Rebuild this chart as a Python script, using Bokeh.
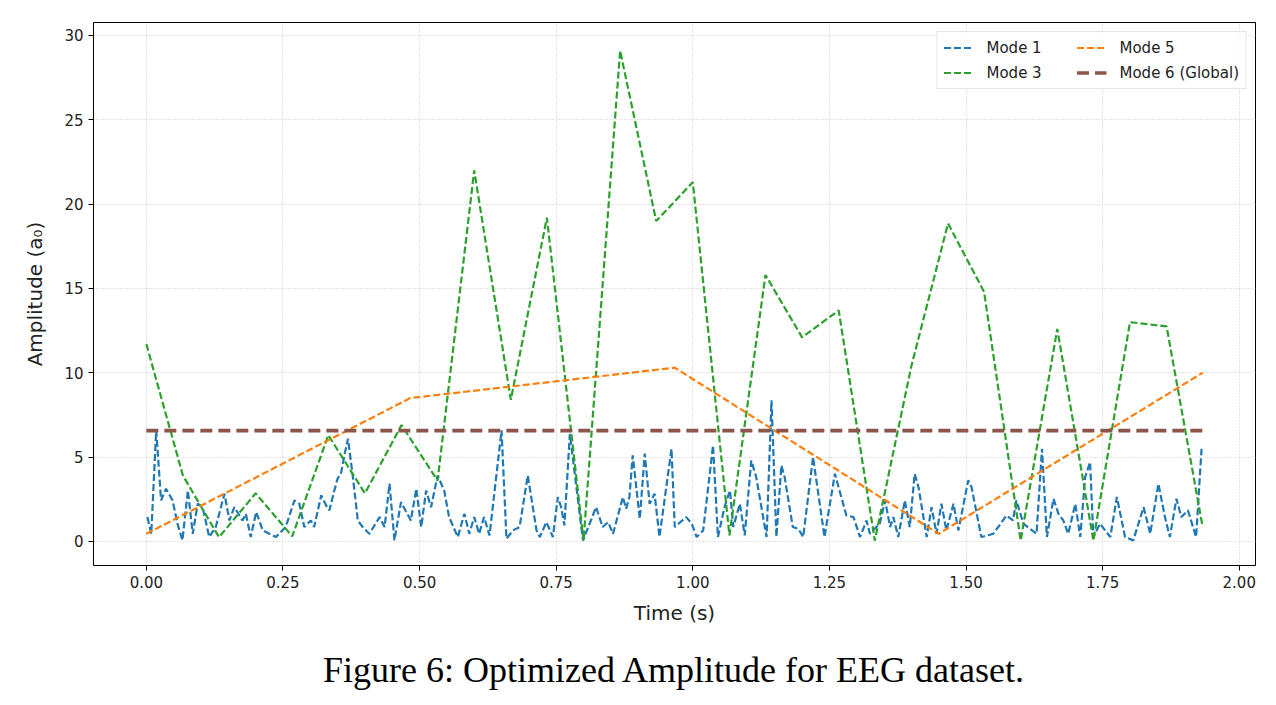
from bokeh.plotting import figure
from bokeh.models import Range1d, FixedTicker, LinearAxis, Legend, LegendItem
from bokeh.embed import file_html
from bokeh.resources import INLINE

# Mode 1 (dense, read vertex by vertex)
t1 = [0.002, 0.009, 0.018, 0.027, 0.036, 0.048, 0.057, 0.066, 0.076, 0.085, 0.094, 0.103, 0.115, 0.127,
      0.143, 0.152, 0.161, 0.176, 0.182, 0.191, 0.201, 0.213, 0.225, 0.237, 0.255, 0.271, 0.280, 0.289,
      0.301, 0.307, 0.320, 0.329, 0.335, 0.344, 0.350, 0.356, 0.363, 0.369, 0.378, 0.387, 0.396, 0.408,
      0.427, 0.436, 0.445, 0.454, 0.466, 0.484, 0.494, 0.503, 0.512, 0.521, 0.533, 0.545, 0.554, 0.570,
      0.582, 0.591, 0.600, 0.609, 0.618, 0.628, 0.650, 0.659, 0.671, 0.683, 0.698, 0.714, 0.720, 0.732,
      0.744, 0.753, 0.759, 0.765, 0.775, 0.799, 0.823, 0.835, 0.845, 0.854, 0.872, 0.878, 0.884, 0.890,
      0.903, 0.912, 0.921, 0.930, 0.939, 0.961, 0.967, 0.988, 0.998, 1.007, 1.019, 1.037, 1.046, 1.058,
      1.068, 1.074, 1.086, 1.095, 1.107, 1.116, 1.135, 1.144, 1.153, 1.162, 1.168, 1.183, 1.193, 1.202,
      1.220, 1.241, 1.260, 1.281, 1.294, 1.306, 1.318, 1.324, 1.342, 1.352, 1.361, 1.367, 1.376, 1.388,
      1.397, 1.406, 1.413, 1.428, 1.437, 1.446, 1.455, 1.464, 1.477, 1.486, 1.504, 1.510, 1.528, 1.550,
      1.574, 1.586, 1.592, 1.605, 1.629, 1.639, 1.648, 1.660, 1.669, 1.678, 1.687, 1.700, 1.709, 1.718,
      1.727, 1.733, 1.745, 1.764, 1.776, 1.791, 1.806, 1.825, 1.837, 1.852, 1.864, 1.873, 1.885, 1.894,
      1.906, 1.921, 1.931]
a1 = [1.44, 0.45, 6.58, 2.43, 3.12, 2.43, 1.05, 0.06, 3.02, 0.45, 2.23, 2.03, 0.26, 0.85,
      2.83, 1.24, 2.03, 1.24, 1.64, 0.26, 1.74, 0.65, 0.45, 0.26, 0.85, 2.43, 2.23, 0.85,
      1.24, 0.85, 2.73, 2.13, 1.84, 3.02, 3.72, 4.01, 5.20, 6.09, 3.81, 1.24, 0.85, 0.45,
      1.44, 0.85, 3.42, 0.06, 2.33, 1.24, 3.12, 0.85, 3.02, 2.03, 3.91, 3.02, 1.44, 0.26,
      1.64, 0.45, 1.44, 0.45, 1.44, 0.36, 6.58, 0.16, 0.65, 0.85, 3.91, 0.65, 0.26, 1.14,
      0.26, 2.63, 2.03, 0.95, 6.38, 0.06, 2.03, 0.85, 1.14, 0.45, 2.63, 1.94, 2.63, 5.10,
      1.34, 5.20, 2.23, 2.83, 0.26, 5.49, 0.85, 1.44, 1.05, 0.26, 0.65, 5.69, 0.26, 2.03,
      3.02, 0.85, 2.23, 0.36, 4.80, 3.81, 0.26, 8.36, 0.26, 4.50, 3.81, 0.85, 0.75, 0.26,
      5.00, 0.26, 4.01, 1.54, 1.44, 0.26, 1.24, 0.45, 1.05, 2.43, 0.85, 1.44, 0.26, 2.43,
      0.85, 4.01, 3.22, 0.26, 2.03, 0.45, 2.23, 0.65, 2.23, 0.65, 3.62, 3.22, 0.26, 0.45,
      1.54, 1.24, 2.43, 1.05, 0.45, 5.49, 0.26, 2.53, 1.64, 1.24, 0.45, 2.23, 0.26, 3.81,
      4.70, 0.26, 1.05, 0.26, 2.63, 0.26, 0.06, 2.03, 0.45, 3.42, 1.44, 0.26, 2.53, 1.44,
      1.84, 0.26, 5.49]

# Mode 3
t3 = [0.000, 0.067, 0.133, 0.200, 0.267, 0.333, 0.400, 0.467, 0.533, 0.600, 0.667, 0.733, 0.800, 0.867, 0.933,
      1.000, 1.067, 1.133, 1.200, 1.267, 1.333, 1.400, 1.467, 1.533, 1.600, 1.667, 1.733, 1.800, 1.867, 1.933]
a3 = [11.7, 3.9, 0.25, 2.85, 0.3, 6.3, 2.85, 6.9, 3.6, 22.0, 8.4, 19.2, 0.05, 29.1, 19.0,
      21.3, 0.35, 15.8, 12.1, 13.7, 0.05, 10.4, 18.85, 14.8, 0.05, 12.6, 0.05, 13.0, 12.75, 0.85]

# Mode 5
t5 = [0.000, 0.483, 0.967, 1.450, 1.933]
a5 = [0.45, 8.5, 10.3, 0.45, 10.0]

# Mode 6 (Global)
t6 = [0.000, 1.933]
a6 = [6.57, 6.57]

x_ticks = [0.0, 0.25, 0.5, 0.75, 1.0, 1.25, 1.5, 1.75, 2.0]
y_ticks = [0, 5, 10, 15, 20, 25, 30]
caption_text = "Figure 6: Optimized Amplitude for EEG dataset."

p = figure(width=1276, height=705, output_backend="svg", toolbar_location=None,
           x_range=Range1d(-0.0967, 2.0297), y_range=Range1d(-1.43, 30.77),
           min_border_left=93, min_border_right=21, min_border_top=22, min_border_bottom=140)

p.background_fill_color = "white"
p.border_fill_color = "white"
p.outline_line_color = "black"
p.outline_line_width = 1

r1 = p.line(t1, a1, line_color="#1f77b4", line_width=2.2, line_dash="7 3")
r3 = p.line(t3, a3, line_color="#2ca02c", line_width=2.2, line_dash="7 3")
r5 = p.line(t5, a5, line_color="#ff7f0e", line_width=2.2, line_dash="7 3")
r6 = p.line(t6, a6, line_color="#8c564b", line_width=3.6, line_dash="12 6")

for ax in (p.xaxis, p.yaxis):
    ax.axis_line_color = None
    ax.major_tick_line_color = "black"
    ax.major_tick_out = 5
    ax.major_tick_in = 0
    ax.minor_tick_line_color = None
    ax.major_label_text_font = "DejaVu Sans"
    ax.major_label_text_font_size = "15px"
    ax.major_label_text_color = "#222222"
    ax.axis_label_text_font = "DejaVu Sans"
    ax.axis_label_text_font_size = "20px"
    ax.axis_label_text_font_style = "normal"
    ax.axis_label_text_color = "#222222"

p.xaxis.ticker = FixedTicker(ticks=x_ticks)
p.yaxis.ticker = FixedTicker(ticks=y_ticks)
p.xaxis.major_label_overrides = {v: f"{v:.2f}" for v in x_ticks}
p.xaxis.axis_label = "Time (s)"
p.yaxis.axis_label = "Amplitude (a₀)"
p.xaxis.axis_label_standoff = 10
p.yaxis.axis_label_standoff = 14

# caption as a tickless axis label below the x axis
cap_axis = LinearAxis(ticker=FixedTicker(ticks=[]), axis_label=caption_text,
                      axis_line_color=None, major_tick_line_color=None, minor_tick_line_color=None,
                      major_label_text_font_size="1px", major_label_text_alpha=0,
                      axis_label_standoff=22,
                      axis_label_text_font="Liberation Serif", axis_label_text_font_size="36px",
                      axis_label_text_font_style="normal", axis_label_text_color="black")
p.add_layout(cap_axis, "below")

for g in (p.xgrid[0], p.ygrid[0]):
    g.grid_line_color = "#c8c8c8"
    g.grid_line_dash = "1 2"
    g.grid_line_width = 1

legend = Legend(items=[
    LegendItem(label="Mode 1", renderers=[r1]),
    LegendItem(label="Mode 3", renderers=[r3]),
    LegendItem(label="Mode 5", renderers=[r5]),
    LegendItem(label="Mode 6 (Global)", renderers=[r6]),
], location="top_right", ncols=2)
legend.label_text_font = "DejaVu Sans"
legend.label_text_font_size = "15px"
legend.label_text_color = "#222222"
legend.border_line_color = "#cccccc"
legend.background_fill_alpha = 0.85
legend.glyph_width = 30
legend.glyph_height = 19
legend.label_standoff = 13
legend.label_width = 84
legend.spacing = 6
legend.padding = 6
legend.margin = 9
p.add_layout(legend)

open("out.html", "w").write(file_html(p, INLINE))
